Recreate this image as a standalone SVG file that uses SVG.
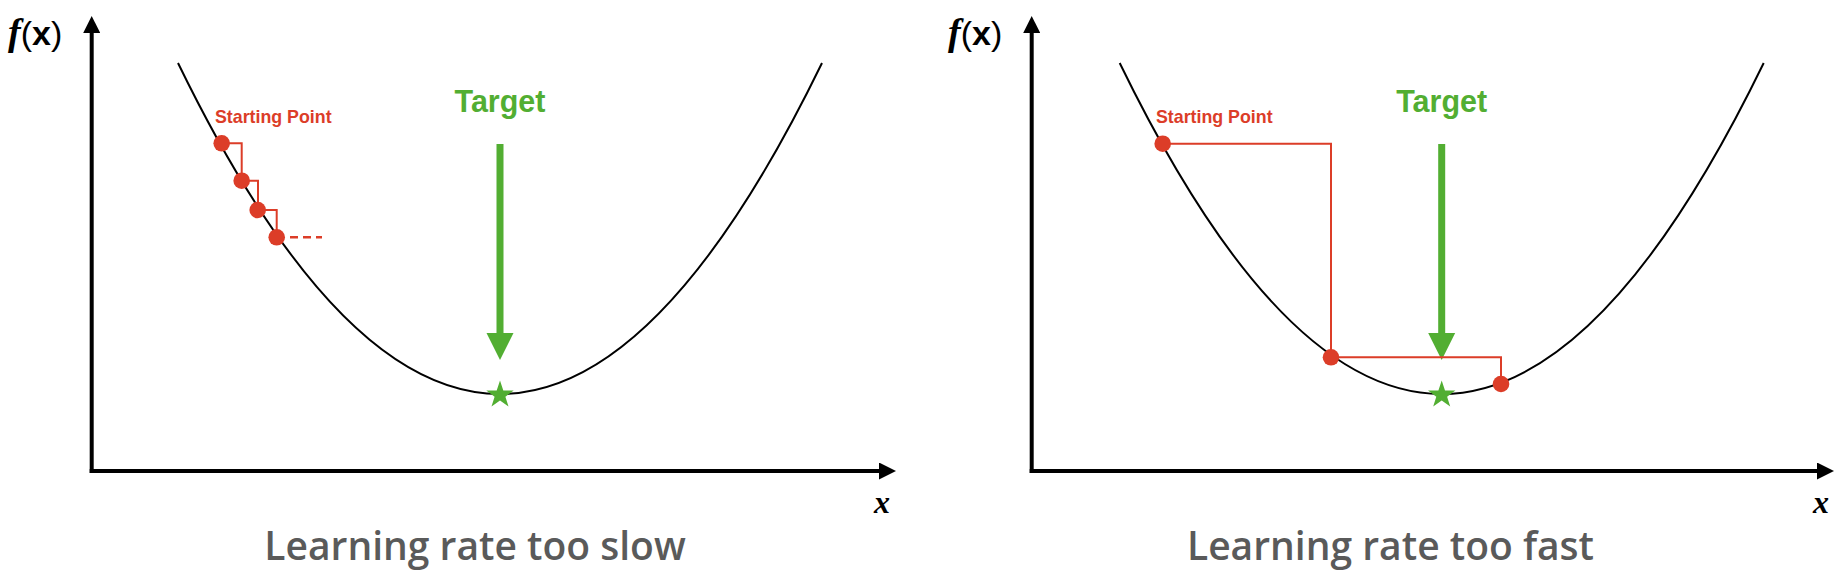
<svg xmlns="http://www.w3.org/2000/svg" width="1838" height="576" viewBox="0 0 1838 576">
  <style>
    .axis { stroke: #000; stroke-width: 4; fill: none; }
    .curve { stroke: #000; stroke-width: 2; fill: none; }
    .step { stroke: #DC3D28; stroke-width: 2; fill: none; }
    .dash { stroke: #DC3D28; stroke-width: 2.5; fill: none; stroke-dasharray: 8 5; }
    .dot { fill: #DC3D28; }
    .green { fill: #52AE32; }
    .sp { font-family: "Liberation Sans", Arial, sans-serif; font-weight: bold; font-size: 17.8px; fill: #DC3D28; }
    .tgt { font-family: "Liberation Sans", Arial, sans-serif; font-weight: bold; font-size: 30.5px; fill: #52AE32; text-anchor: middle; }
    .title { font-family: "Open Sans", "Liberation Sans", sans-serif; font-weight: 600; font-size: 39px; fill: #5a5a5a; text-anchor: middle; }
    .fx { font-family: "Liberation Sans", Arial, sans-serif; font-size: 34px; fill: #000; }
    .it { font-family: "Liberation Serif", "Times New Roman", serif; font-style: italic; font-weight: bold; font-size: 38px; }
    .xl { font-family: "Liberation Serif", "Times New Roman", serif; font-style: italic; font-weight: bold; font-size: 32px; fill: #000; text-anchor: middle; }
  </style>
  <defs>
    <marker id="ah" markerUnits="userSpaceOnUse" markerWidth="17" markerHeight="17" refX="0" refY="8.5" orient="auto">
      <path d="M0,0 L17,8.5 L0,17 Z" fill="#000"/>
    </marker>
    <path id="star" d="M0,-14.4 L3.3,-4.6 L13.7,-4.5 L5.4,1.8 L8.5,11.6 L0,5.6 L-8.5,11.6 L-5.4,1.8 L-13.7,-4.5 L-3.3,-4.6 Z"/>
    <g id="tarrow">
      <rect x="-3.5" y="0" width="7" height="192"/>
      <path d="M-13.5,189 L13.5,189 L0,216 Z"/>
    </g>
  </defs>

  <rect width="1838" height="576" fill="#fff"/>

  <!-- Left panel -->
  <g id="left-panel">
    <g id="left-axes">
      <path class="axis" d="M91.7,473 V33" marker-end="url(#ah)"/>
      <path class="axis" d="M89.7,471 H879" marker-end="url(#ah)"/>
      <text class="fx" x="8" y="45"><tspan class="it">f</tspan>(<tspan font-weight="bold">x</tspan>)</text>
      <text class="xl" x="882" y="513">x</text>
    </g>
    <path id="left-curve" class="curve" d="M178,63 Q500,725 822,63"/>
    <g id="left-target">
      <text class="tgt" x="500" y="112">Target</text>
      <use href="#tarrow" x="500" y="144" class="green"/>
      <use href="#star" x="500" y="395" class="green"/>
    </g>
    <g id="left-steps">
      <path class="step" d="M221.7,143.3 H241.7 V180.7 H258 V210 H276.7 V237.3"/>
      <path class="dash" d="M290,237.3 H322"/>
      <circle class="dot" cx="221.7" cy="143.3" r="8.3"/>
      <circle class="dot" cx="241.7" cy="180.7" r="8.3"/>
      <circle class="dot" cx="257.7" cy="210" r="8.3"/>
      <circle class="dot" cx="276.7" cy="237.3" r="8.3"/>
      <text class="sp" x="215" y="123">Starting Point</text>
    </g>
    <text id="left-title" class="title" x="475" y="560">Learning rate too slow</text>
  </g>

  <!-- Right panel -->
  <g id="right-panel">
    <g id="right-axes">
      <path class="axis" d="M1031.7,473 V33" marker-end="url(#ah)"/>
      <path class="axis" d="M1029.7,471 H1817" marker-end="url(#ah)"/>
      <text class="fx" x="948" y="45"><tspan class="it">f</tspan>(<tspan font-weight="bold">x</tspan>)</text>
      <text class="xl" x="1821" y="513">x</text>
    </g>
    <path id="right-curve" class="curve" d="M1119.7,63 Q1441.7,725 1763.7,63"/>
    <g id="right-target">
      <text class="tgt" x="1441.7" y="112">Target</text>
      <use href="#tarrow" x="1441.7" y="144" class="green"/>
      <use href="#star" x="1441.7" y="395" class="green"/>
    </g>
    <g id="right-steps">
      <path class="step" d="M1162.7,143.7 H1331 V357.3 H1501 V384"/>
      <circle class="dot" cx="1162.7" cy="143.7" r="8.3"/>
      <circle class="dot" cx="1331" cy="357.3" r="8.3"/>
      <circle class="dot" cx="1501" cy="384" r="8.3"/>
      <text class="sp" x="1156" y="123">Starting Point</text>
    </g>
    <text id="right-title" class="title" x="1390.5" y="560">Learning rate too fast</text>
  </g>
</svg>
